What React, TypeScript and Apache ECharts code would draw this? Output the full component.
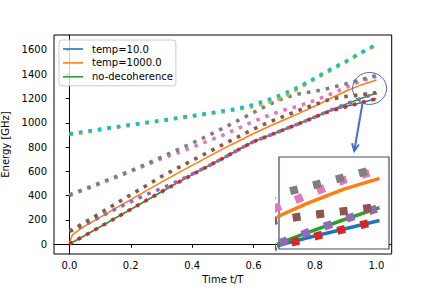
import React, { useEffect, useRef } from "react";
import * as echarts from "echarts";

const times = [0, 0.01, 0.05, 0.1, 0.15, 0.2, 0.25, 0.3, 0.35, 0.4, 0.45, 0.5, 0.55, 0.6, 0.65, 0.7, 0.75, 0.8, 0.85, 0.9, 0.95, 1.0];

const temp10 = [2, 16, 72, 143, 215, 288, 360, 432, 503, 573, 641, 708, 778, 845, 895, 945, 995, 1048, 1100, 1134, 1166, 1198];
const temp1000 = [5, 80, 150, 222, 295, 368, 440, 512, 582, 650, 718, 785, 848, 912, 970, 1025, 1080, 1138, 1200, 1260, 1312, 1352];
const noDecoherence = [2, 16, 72, 143, 215, 288, 360, 432, 503, 573, 641, 708, 778, 845, 895, 945, 995, 1048, 1103, 1153, 1200, 1245];

const level0 = [2, 16, 72, 143, 215, 288, 360, 432, 503, 573, 641, 708, 778, 845, 895, 945, 995, 1048, 1098, 1132, 1166, 1198];
const level1 = [108, 115, 160, 225, 290, 350, 408, 460, 515, 578, 641, 708, 778, 845, 895, 945, 995, 1048, 1103, 1153, 1200, 1245];
const level2 = [110, 120, 180, 255, 332, 408, 482, 558, 625, 690, 755, 820, 885, 948, 1005, 1055, 1105, 1150, 1195, 1216, 1232, 1248];
const level3 = [402, 412, 450, 500, 550, 600, 652, 705, 750, 798, 848, 898, 955, 1012, 1062, 1105, 1140, 1185, 1235, 1290, 1345, 1383];
const level4 = [407, 417, 455, 505, 555, 605, 660, 718, 775, 832, 892, 955, 1020, 1085, 1150, 1205, 1240, 1260, 1287, 1320, 1355, 1390];
const level5 = [903, 906, 922, 942, 961, 980, 998, 1016, 1035, 1053, 1072, 1092, 1110, 1135, 1170, 1212, 1288, 1362, 1430, 1500, 1575, 1640];
const level6 = [910, 913, 928, 948, 966, 985, 1003, 1020, 1040, 1058, 1078, 1098, 1118, 1150, 1192, 1240, 1300, 1368, 1440, 1505, 1578, 1645];

const xTicks = [0, 0.2, 0.4, 0.6, 0.8, 1.0];
const yTicks = [0, 200, 400, 600, 800, 1000, 1200, 1400, 1600];

const solidNames = ["temp=10.0", "temp=1000.0", "no-decoherence"];
const solidColors = ["#1f77b4", "#ff7f0e", "#2ca02c"];
const levelColors = ["#d62728", "#9467bd", "#8c564b", "#e377c2", "#7f7f7f", "#bcbd22", "#17becf"];

const zoomCircle = [0.978, 1283];
const arrowFrom = [0.955, 1161];
const arrowTo = [0.928, 768];

const FONT = "DejaVu Sans";

function pairs(vals: number[]) {
  return times.map((t, i) => [t, vals[i]]);
}

function buildSeries(idx: number, solidW: number, dotW: number, dash: number[], z: number, levelCount: number) {
  const solids = [temp10, temp1000, noDecoherence];
  const levels = [level0, level1, level2, level3, level4, level5, level6].slice(0, levelCount);
  const out: any[] = [];
  solids.forEach((vals, k) => {
    out.push({
      type: "line",
      name: solidNames[k],
      xAxisIndex: idx,
      yAxisIndex: idx,
      data: pairs(vals),
      symbol: "none",
      showSymbol: false,
      silent: true,
      z,
      lineStyle: { color: solidColors[k], width: solidW },
      itemStyle: { color: solidColors[k] },
    });
  });
  levels.forEach((vals, k) => {
    out.push({
      type: "line",
      name: "level" + k,
      xAxisIndex: idx,
      yAxisIndex: idx,
      data: pairs(vals),
      symbol: "none",
      showSymbol: false,
      silent: true,
      z,
      lineStyle: { color: levelColors[k], width: dotW, type: dash, cap: "butt" },
      itemStyle: { color: levelColors[k] },
    });
  });
  return out;
}

export default function App() {
  const ref = useRef<HTMLDivElement>(null);
  useEffect(() => {
    if (!ref.current) return;
    const chart = echarts.init(ref.current, undefined, { renderer: "svg" });
    const axisLabelStyle = { fontFamily: FONT, fontSize: 10, color: "#000" };
    chart.setOption({
      animation: false,
      backgroundColor: "#fff",
      textStyle: { fontFamily: FONT },
      grid: [
        { left: 54, top: 35, width: 337.7, height: 219, show: true, borderColor: "#000", borderWidth: 1, backgroundColor: "#fff", outerBoundsMode: "none", containLabel: false },
        { left: 279, top: 157, width: 110, height: 92, show: true, borderColor: "#3d4d6e", borderWidth: 1.2, backgroundColor: "#fff", z: 10, outerBoundsMode: "none", containLabel: false },
      ],
      xAxis: [
        {
          type: "value",
          gridIndex: 0,
          min: -0.05,
          max: 1.05,
          name: "Time t/T",
          nameLocation: "middle",
          nameGap: 19,
          nameTextStyle: { fontFamily: FONT, fontSize: 10, color: "#000" },
          axisLine: { show: true, lineStyle: { color: "#000", width: 1 } },
          axisTick: { show: true, length: 3.5, lineStyle: { color: "#000" }, customValues: xTicks },
          axisLabel: { ...axisLabelStyle, margin: 6, customValues: xTicks, formatter: (v: number) => v.toFixed(1) },
          splitLine: { show: false },
        },
        { type: "value", gridIndex: 1, min: 0.862, max: 1.013, show: false, splitLine: { show: false } },
      ],
      yAxis: [
        {
          type: "value",
          gridIndex: 0,
          min: -80,
          max: 1723,
          name: "Energy [GHz]",
          nameLocation: "middle",
          nameGap: 30,
          nameTextStyle: { fontFamily: FONT, fontSize: 10, color: "#000" },
          axisLine: { show: true, lineStyle: { color: "#000", width: 1 } },
          axisTick: { show: true, length: 3.5, lineStyle: { color: "#000" }, customValues: yTicks },
          axisLabel: { ...axisLabelStyle, margin: 7, customValues: yTicks, formatter: (v: number) => String(v) },
          splitLine: { show: false },
        },
        { type: "value", gridIndex: 1, min: 1094, max: 1430, show: false, splitLine: { show: false } },
      ],
      legend: {
        data: solidNames.map((n) => ({ name: n, icon: "rect" })),
        orient: "vertical",
        left: 59,
        top: 40,
        itemWidth: 20,
        itemHeight: 1.6,
        itemGap: 3.9,
        padding: [4, 3, 4, 4],
        backgroundColor: "rgba(255,255,255,0.8)",
        borderColor: "#cccccc",
        borderWidth: 1,
        borderRadius: 3,
        selectedMode: false,
        z: 6,
        textStyle: { fontFamily: FONT, fontSize: 10, color: "#000", padding: [0, 0, 0, 4] },
      },
      series: [
        ...buildSeries(0, 1.5, 3.6, [3.6, 6], 2, 7),
        ...buildSeries(1, 3.5, 8, [8, 15.7], 12, 5),
      ],
    });

    const finder = { xAxisIndex: 0, yAxisIndex: 0 };
    const c = chart.convertToPixel(finder, zoomCircle) as number[];
    const p0 = chart.convertToPixel(finder, arrowFrom) as number[];
    const p1 = chart.convertToPixel(finder, arrowTo) as number[];
    const dx = p1[0] - p0[0];
    const dy = p1[1] - p0[1];
    const L = Math.hypot(dx, dy);
    const ux = -dx / L;
    const uy = -dy / L;
    const head = 8;
    const ang = 0.45;
    const rot = (a: number) => [
      p1[0] + head * (ux * Math.cos(a) - uy * Math.sin(a)),
      p1[1] + head * (ux * Math.sin(a) + uy * Math.cos(a)),
    ];
    const w1 = rot(ang);
    const w2 = rot(-ang);
    chart.setOption({
      graphic: [
        { type: "ellipse", z: 30, silent: true, shape: { cx: c[0], cy: c[1], rx: 17, ry: 16 }, style: { fill: "none", stroke: "#4a6aa8", lineWidth: 1 } },
        { type: "line", z: 30, silent: true, shape: { x1: p0[0], y1: p0[1], x2: p1[0], y2: p1[1] }, style: { stroke: "#4472c4", lineWidth: 2 } },
        { type: "polyline", z: 30, silent: true, shape: { points: [w1, p1, w2] }, style: { stroke: "#4472c4", lineWidth: 2, fill: "none" } },
      ],
    });
    return () => chart.dispose();
  }, []);
  return <div ref={ref} style={{ position: "absolute", left: 0, top: 0, width: 436, height: 291 }} />;
}
